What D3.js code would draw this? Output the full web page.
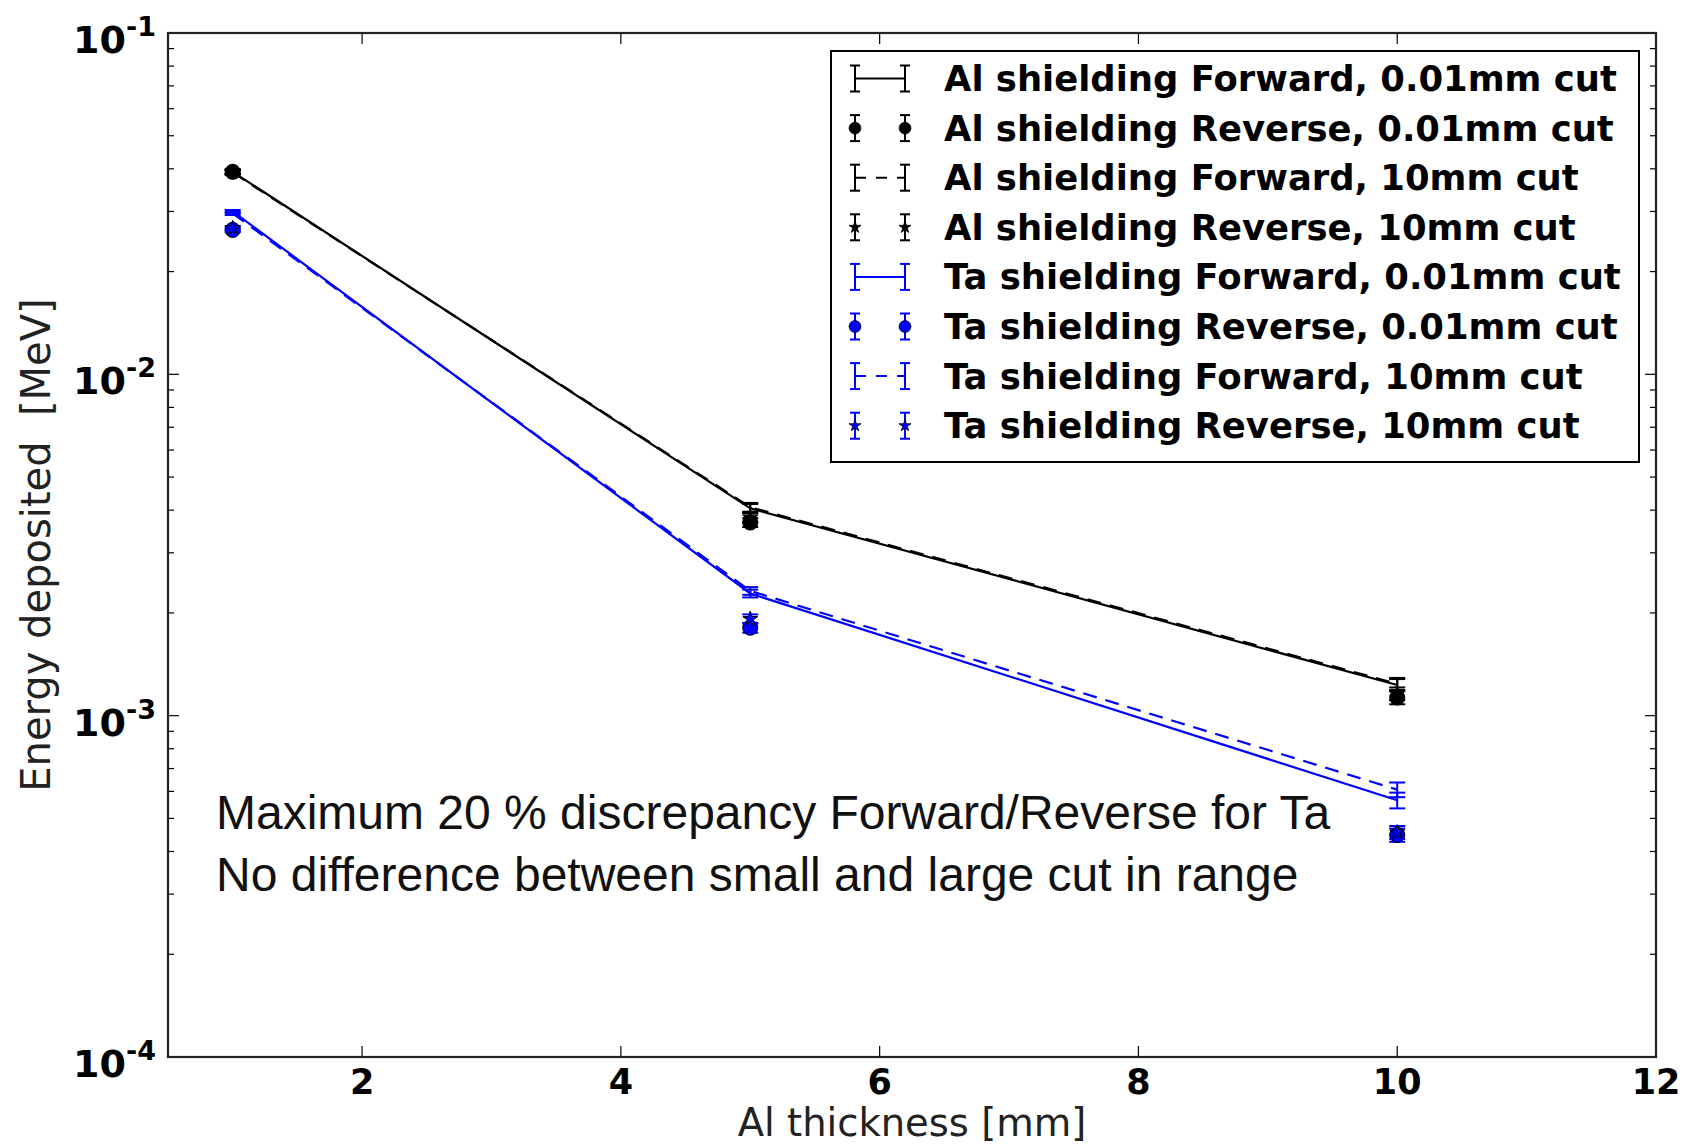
<!DOCTYPE html>
<html>
<head>
<meta charset="utf-8">
<script src="https://cdn.jsdelivr.net/npm/d3@7"></script>
<style>
  html, body { margin: 0; padding: 0; background: #fff; }
  svg { display: block; }
</style>
</head>
<body>
<svg id="chart" width="1685" height="1144"></svg>
<script>
// ---------------- data ----------------
const thickness = [1, 5, 10];

const alFwd001 = [0.0392, 0.00405, 0.00123];
const alFwd001Err = [0.0006, 0.00012, 0.00005];
const alRev001 = [0.0392, 0.00368, 0.00113];
const alRev001Err = [0.0006, 0.00011, 0.00005];
const alFwd10 = [0.0390, 0.00408, 0.00124];
const alFwd10Err = [0.0006, 0.00012, 0.00005];
const alRev10 = [0.0392, 0.00380, 0.00116];
const alRev10Err = [0.0006, 0.00011, 0.00005];

const taFwd001 = [0.0300, 0.00228, 0.000565];
const taFwd001Err = [0.0003, 0.00006, 0.00003];
const taFwd10 = [0.0296, 0.00232, 0.000607];
const taFwd10Err = [0.0003, 0.00006, 0.00003];
const taRev001 = [0.0265, 0.00181, 0.000447];
const taRev001Err = [0.0004, 0.00006, 0.00002];
const taRev10 = [0.0268, 0.00192, 0.000455];
const taRev10Err = [0.0004, 0.00006, 0.00002];

const xTicks = [2, 4, 6, 8, 10, 12];
const yMajorTicks = [1e-4, 1e-3, 1e-2, 1e-1];
const yTickExponents = ["-4", "-3", "-2", "-1"];

const legendLabels = [
  "Al shielding Forward, 0.01mm cut",
  "Al shielding Reverse, 0.01mm cut",
  "Al shielding Forward, 10mm cut",
  "Al shielding Reverse, 10mm cut",
  "Ta shielding Forward, 0.01mm cut",
  "Ta shielding Reverse, 0.01mm cut",
  "Ta shielding Forward, 10mm cut",
  "Ta shielding Reverse, 10mm cut"
];
const annotationLines = [
  "Maximum 20 % discrepancy Forward/Reverse for Ta",
  "No difference between small and large cut in range"
];

// ---------------- series definitions ----------------
const BLUE = "#0000ff";
const series = [
  {name: legendLabels[0], vals: alFwd001, err: alFwd001Err, color: "#000", line: "solid", marker: null},
  {name: legendLabels[1], vals: alRev001, err: alRev001Err, color: "#000", line: null, marker: "circle"},
  {name: legendLabels[2], vals: alFwd10, err: alFwd10Err, color: "#000", line: "dashed", marker: null},
  {name: legendLabels[3], vals: alRev10, err: alRev10Err, color: "#000", line: null, marker: "star"},
  {name: legendLabels[4], vals: taFwd001, err: taFwd001Err, color: BLUE, line: "solid", marker: null},
  {name: legendLabels[5], vals: taRev001, err: taRev001Err, color: BLUE, line: null, marker: "circle"},
  {name: legendLabels[6], vals: taFwd10, err: taFwd10Err, color: BLUE, line: "dashed", marker: null},
  {name: legendLabels[7], vals: taRev10, err: taRev10Err, color: BLUE, line: null, marker: "star"}
];

// ---------------- layout ----------------
const svg = d3.select("#chart");
const M = {left: 168, top: 33, right: 29, bottom: 87};
const W = 1685 - M.left - M.right;
const H = 1144 - M.top - M.bottom;

const x = d3.scaleLinear().domain([0.5, 12]).range([0, W]);
const y = d3.scaleLog().domain([1e-4, 1e-1]).range([H, 0]);

const g = svg.append("g").attr("transform", `translate(${M.left},${M.top})`);

// ---------------- data marks ----------------
const dashArr = "14,9";
const capHalf = 8;

function drawErrorBars(s, group) {
  thickness.forEach((t, i) => {
    const cx = x(t);
    const y1 = y(s.vals[i] - s.err[i]);
    const y2 = y(s.vals[i] + s.err[i]);
    group.append("line").attr("x1", cx).attr("x2", cx).attr("y1", y1).attr("y2", y2)
      .attr("stroke", s.color).attr("stroke-width", 2);
    [y1, y2].forEach(yy => group.append("line")
      .attr("x1", cx - capHalf).attr("x2", cx + capHalf).attr("y1", yy).attr("y2", yy)
      .attr("stroke", s.color).attr("stroke-width", 2));
  });
}

const lineGen = d3.line().x((d) => x(d[0])).y((d) => y(d[1]));
const circleSym = d3.symbol().type(d3.symbolCircle).size(180);
const starSym = d3.symbol().type(d3.symbolStar).size(70);

series.forEach(s => {
  const sg = g.append("g");
  if (s.line) {
    sg.append("path")
      .datum(thickness.map((t, i) => [t, s.vals[i]]))
      .attr("d", lineGen)
      .attr("fill", "none")
      .attr("stroke", s.color)
      .attr("stroke-width", 2.2)
      .attr("stroke-dasharray", s.line === "dashed" ? dashArr : null);
  }
  drawErrorBars(s, sg);
  if (s.marker) {
    thickness.forEach((t, i) => {
      sg.append("path")
        .attr("d", s.marker === "circle" ? circleSym() : starSym())
        .attr("transform", `translate(${x(t)},${y(s.vals[i])})`)
        .attr("fill", s.color)
        .attr("stroke", "#000")
        .attr("stroke-width", 1);
    });
  }
});

// ---------------- axes ----------------
const frame = g.append("g");
const minorTicks = y.ticks().filter(v => !yMajorTicks.some(m => Math.abs(m - v) / m < 1e-6));
const majLen = 11, minLen = 6;

// x ticks bottom/top
xTicks.forEach(v => {
  const px = x(v);
  frame.append("line").attr("x1", px).attr("x2", px).attr("y1", H).attr("y2", H - majLen)
    .attr("stroke", "#000").attr("stroke-width", 1.2);
  frame.append("line").attr("x1", px).attr("x2", px).attr("y1", 0).attr("y2", majLen)
    .attr("stroke", "#000").attr("stroke-width", 1.2);
  g.append("text").attr("x", px).attr("y", H + 37)
    .attr("text-anchor", "middle")
    .attr("font-family", "DejaVu Sans").attr("font-weight", "bold").attr("font-size", 35)
    .attr("fill", "#000").text(v);
});

// y ticks left/right
yMajorTicks.forEach((v, i) => {
  const py = y(v);
  frame.append("line").attr("x1", 0).attr("x2", majLen).attr("y1", py).attr("y2", py)
    .attr("stroke", "#000").attr("stroke-width", 1.2);
  frame.append("line").attr("x1", W).attr("x2", W - majLen).attr("y1", py).attr("y2", py)
    .attr("stroke", "#000").attr("stroke-width", 1.2);
  const t = g.append("text").attr("x", -12).attr("y", py + 20)
    .attr("text-anchor", "end")
    .attr("font-family", "DejaVu Sans").attr("font-weight", "bold").attr("font-size", 38)
    .attr("fill", "#000");
  t.append("tspan").text("10");
  t.append("tspan").attr("font-size", 27).attr("dy", -17).text(yTickExponents[i]);
});
minorTicks.forEach(v => {
  const py = y(v);
  frame.append("line").attr("x1", 0).attr("x2", minLen).attr("y1", py).attr("y2", py)
    .attr("stroke", "#000").attr("stroke-width", 1.2);
  frame.append("line").attr("x1", W).attr("x2", W - minLen).attr("y1", py).attr("y2", py)
    .attr("stroke", "#000").attr("stroke-width", 1.2);
});

// frame
frame.append("rect").attr("x", 0).attr("y", 0).attr("width", W).attr("height", H)
  .attr("fill", "none").attr("stroke", "#222").attr("stroke-width", 2.2);

// axis labels
svg.append("text")
  .attr("x", 912).attr("y", 1136)
  .attr("text-anchor", "middle")
  .attr("font-family", "DejaVu Sans").attr("font-size", 38.5).attr("fill", "#222")
  .text("Al thickness [mm]");
svg.append("text")
  .attr("transform", `translate(50, 545) rotate(-90)`)
  .attr("text-anchor", "middle")
  .attr("font-family", "DejaVu Sans").attr("font-size", 40).attr("fill", "#222")
  .attr("xml:space", "preserve")
  .text("Energy deposited  [MeV]");

// annotation
annotationLines.forEach((txt, i) => {
  svg.append("text")
    .attr("x", 216).attr("y", 829 + i * 62)
    .attr("font-family", "Liberation Sans, Arial, sans-serif").attr("font-size", 48).attr("fill", "#111")
    .text(txt);
});

// ---------------- legend ----------------
const lg = svg.append("g");
const LX = 831, LY = 51, LW = 808, LH = 411;
lg.append("rect").attr("x", LX).attr("y", LY).attr("width", LW).attr("height", LH)
  .attr("fill", "#fff").attr("stroke", "#000").attr("stroke-width", 2);
const rowH = 49.6, row0 = 78.5;
const hx1 = 855, hx2 = 905, hHalf = 13;
series.forEach((s, i) => {
  const ry = row0 + i * rowH;
  const row = lg.append("g");
  if (s.line) {
    row.append("line").attr("x1", hx1).attr("x2", hx2).attr("y1", ry).attr("y2", ry)
      .attr("stroke", s.color).attr("stroke-width", 2)
      .attr("stroke-dasharray", s.line === "dashed" ? "11,10" : null);
  }
  [hx1, hx2].forEach(hx => {
    row.append("line").attr("x1", hx).attr("x2", hx).attr("y1", ry - hHalf).attr("y2", ry + hHalf)
      .attr("stroke", s.color).attr("stroke-width", 2);
    [ry - hHalf, ry + hHalf].forEach(yy => row.append("line")
      .attr("x1", hx - 5).attr("x2", hx + 5).attr("y1", yy).attr("y2", yy)
      .attr("stroke", s.color).attr("stroke-width", 2));
    if (s.marker) {
      row.append("path")
        .attr("d", s.marker === "circle" ? d3.symbol().type(d3.symbolCircle).size(110)() : d3.symbol().type(d3.symbolStar).size(45)())
        .attr("transform", `translate(${hx},${ry})`)
        .attr("fill", s.color).attr("stroke", "#000").attr("stroke-width", 0.8);
    }
  });
  row.append("text").attr("x", 944).attr("y", ry + 12.5)
    .attr("font-family", "DejaVu Sans").attr("font-weight", "bold").attr("font-size", 35.4)
    .attr("fill", "#000").text(s.name);
});
</script>
</body>
</html>
